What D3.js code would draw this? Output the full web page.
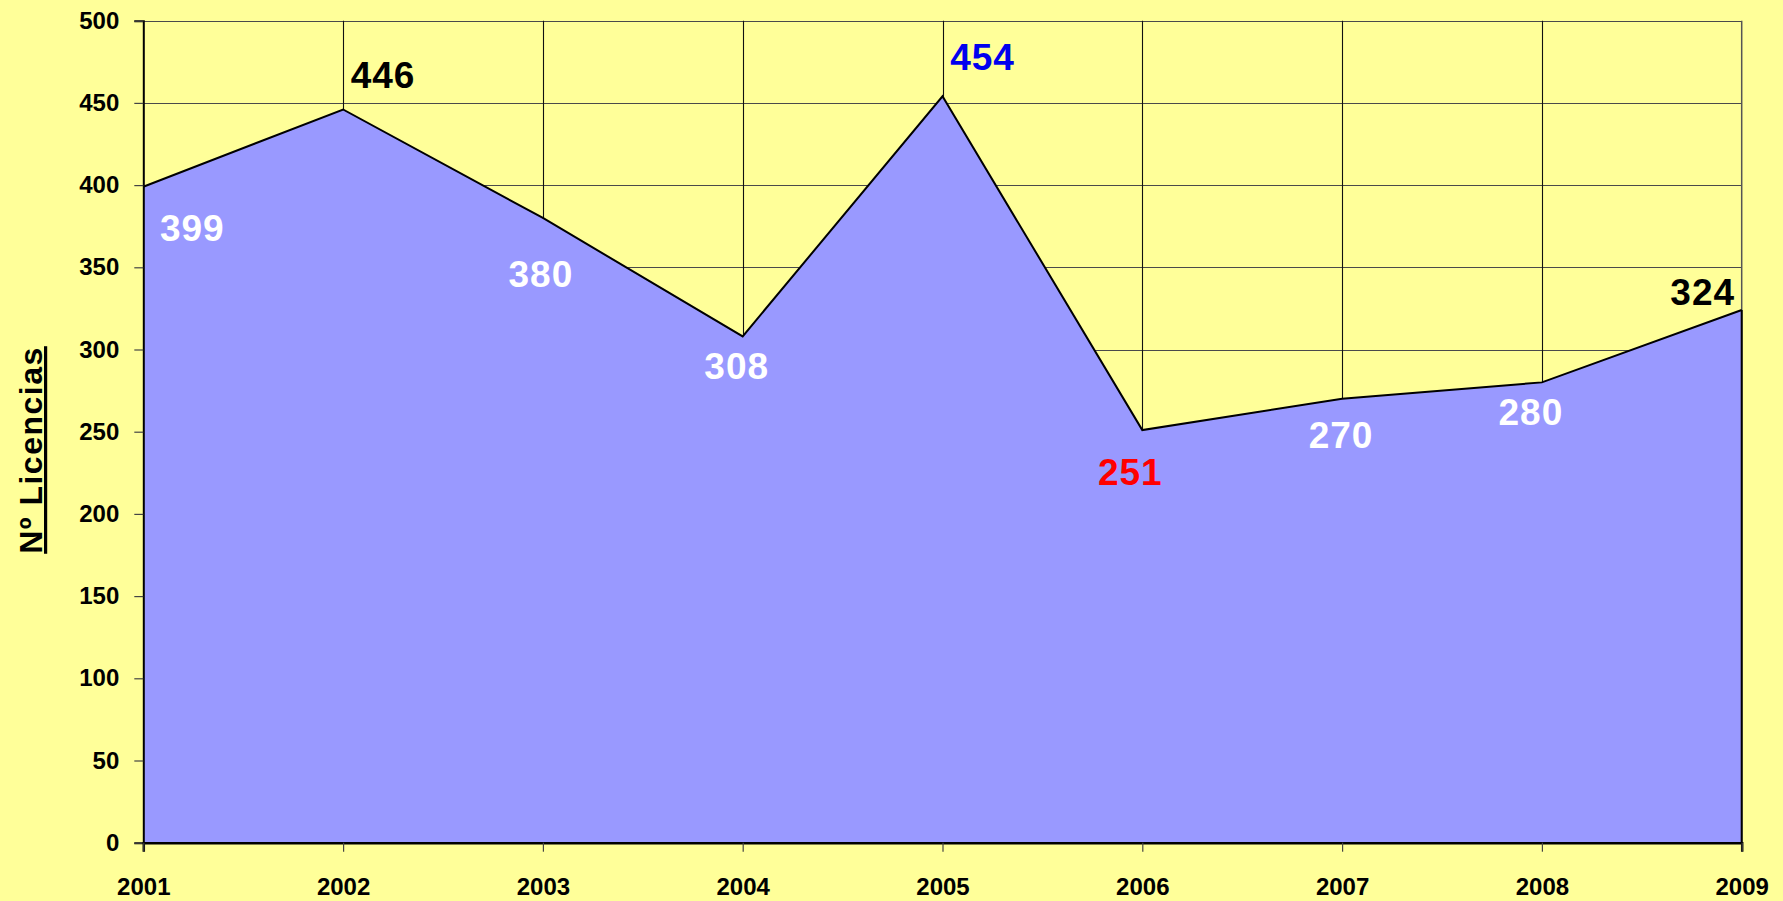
<!DOCTYPE html>
<html>
<head>
<meta charset="utf-8">
<script src="https://cdn.jsdelivr.net/npm/d3@7"></script>
<style>
  html, body { margin: 0; padding: 0; background: #FFFF99; }
  svg { display: block; }
  text { font-family: "Liberation Sans", Arial, sans-serif; font-weight: bold; }
</style>
</head>
<body>
<svg id="chart" width="1783" height="901"></svg>
<script>
// ---- data ----
const years = ["2001", "2002", "2003", "2004", "2005", "2006", "2007", "2008", "2009"];
const licencias = [399, 446, 380, 308, 454, 251, 270, 280, 324];
const yTicks = [0, 50, 100, 150, 200, 250, 300, 350, 400, 450, 500];
const yTitle = "Nº Licencias";

// ---- label placement / colours (styling, not data) ----
const labelColors = ["#FFFFFF", "#000000", "#FFFFFF", "#FFFFFF", "#0000EE", "#FF0000", "#FFFFFF", "#FFFFFF", "#000000"];
const labelDx = [49, 40, -2, -6, 40, -12, -1, -11, -39];
const labelDy = [54, -21, 69, 43, -26, 55, 49, 43, -5];

(function () {
const W = 1783, H = 901;
const mLeft = 143.3, mRight = 1741.7, mTop = 20.7, mBottom = 842.7;

const svg = d3.select("#chart");
svg.append("rect").attr("width", W).attr("height", H).attr("fill", "#FFFF99");

const x = d3.scalePoint().domain(years).range([mLeft, mRight]);
const y = d3.scaleLinear().domain([0, 500]).range([mBottom, mTop]);

// horizontal gridlines
svg.append("g").selectAll("line").data(yTicks.filter(d => d > 0)).join("line")
  .attr("x1", mLeft).attr("x2", mRight)
  .attr("y1", d => Math.round(y(d)) + 0.5).attr("y2", d => Math.round(y(d)) + 0.5)
  .attr("stroke", "#4a4a4a").attr("stroke-width", 1.2);

// vertical gridlines
svg.append("g").selectAll("line").data(years.slice(1, -1)).join("line")
  .attr("x1", d => Math.round(x(d)) + 0.5).attr("x2", d => Math.round(x(d)) + 0.5)
  .attr("y1", mTop).attr("y2", mBottom)
  .attr("stroke", "#111").attr("stroke-width", 1.1);

// right border
svg.append("line")
  .attr("x1", mRight).attr("x2", mRight).attr("y1", mTop).attr("y2", mBottom)
  .attr("stroke", "#555").attr("stroke-width", 1.5);

// area
const area = d3.area()
  .x((d, i) => x(years[i]))
  .y0(y(0))
  .y1(d => y(d));
svg.append("path").datum(licencias)
  .attr("d", area)
  .attr("fill", "#9999FF");

const line = d3.line()
  .x((d, i) => x(years[i]))
  .y(d => y(d));
svg.append("path").datum(licencias)
  .attr("d", line)
  .attr("fill", "none")
  .attr("stroke", "#000")
  .attr("stroke-width", 2)
  .attr("stroke-linejoin", "miter");

// right edge of area
svg.append("line")
  .attr("x1", mRight).attr("x2", mRight).attr("y1", y(licencias[licencias.length - 1])).attr("y2", mBottom)
  .attr("stroke", "#000").attr("stroke-width", 2);

// y axis
const yAxis = d3.axisLeft(y).tickValues(yTicks).tickSize(9).tickPadding(15);
const gy = svg.append("g").attr("transform", `translate(${mLeft},0)`).call(yAxis);
gy.select(".domain").attr("stroke", "#000").attr("stroke-width", 2);
gy.selectAll(".tick line").attr("stroke", "#444").attr("stroke-width", 1.2);
gy.selectAll(".tick text")
  .attr("font-size", 24).attr("font-weight", "bold")
  .attr("font-family", '"Liberation Sans", Arial, sans-serif')
  .attr("fill", "#000");

// x axis
const xAxis = d3.axisBottom(x).tickSize(9).tickPadding(26);
const gx = svg.append("g").attr("transform", `translate(0,${mBottom})`).call(xAxis);
gx.select(".domain").attr("stroke", "#000").attr("stroke-width", 2.5);
gx.selectAll(".tick line").attr("stroke", "#444").attr("stroke-width", 1.2);
gx.selectAll(".tick text")
  .attr("font-size", 24).attr("font-weight", "bold")
  .attr("font-family", '"Liberation Sans", Arial, sans-serif')
  .attr("fill", "#000");

// data labels
svg.append("g").selectAll("text").data(licencias).join("text")
  .attr("x", (d, i) => x(years[i]) + labelDx[i])
  .attr("y", (d, i) => y(d) + labelDy[i])
  .attr("text-anchor", "middle")
  .attr("font-size", 37)
  .attr("letter-spacing", 1)
  .attr("fill", (d, i) => labelColors[i])
  .text(d => d);

// y title
svg.append("text")
  .attr("transform", "translate(42,450) rotate(-90)")
  .attr("text-anchor", "middle")
  .attr("font-size", 32)
  .attr("letter-spacing", 1.5)
  .attr("text-decoration", "underline")
  .attr("fill", "#000")
  .text(yTitle);
})();
</script>
</body>
</html>
